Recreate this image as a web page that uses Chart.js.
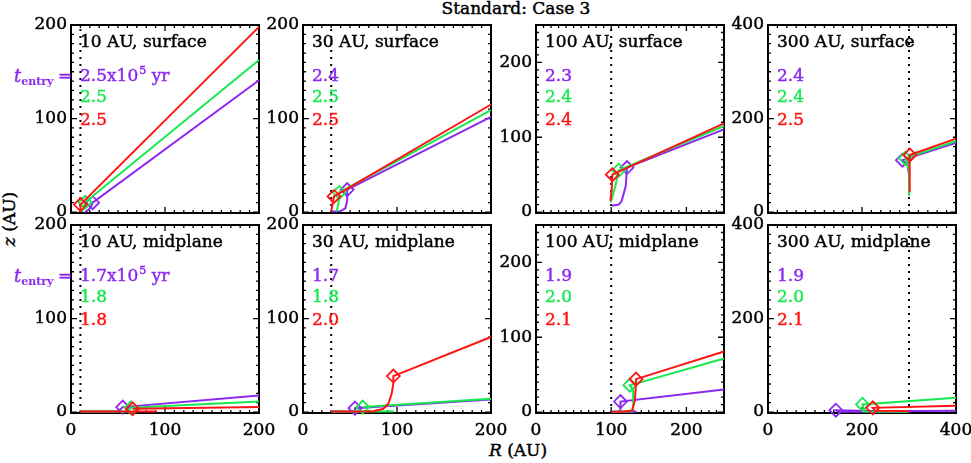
<!DOCTYPE html>
<html>
<head>
<meta charset="utf-8">
<script src="https://cdn.jsdelivr.net/npm/chart.js@4.4.1/dist/chart.umd.min.js"></script>
<style>
  body { margin: 0; background: #fff; width: 971px; height: 463px; position: relative; overflow: hidden; font-family: "DejaVu Serif", serif; }
  canvas { position: absolute; }
  .lab { position: absolute; font-size: 17px; color: #000; white-space: nowrap; transform: translate(-50%, -50%); -webkit-text-stroke: 0.45px #000; }
</style>
</head>
<body>
<div class="lab" style="left:516px;top:8px;">Standard: Case 3</div>
<div class="lab" style="left:9px;top:219px;transform:translate(-50%,-50%) rotate(-90deg);"><i>z</i> (AU)</div>
<div class="lab" style="left:518px;top:450px;"><i>R</i> (AU)</div>
<script>
// datos de los paneles (fila superior: surface, fila inferior: midplane)
const panelNames = ['10 AU, surface', '30 AU, surface', '100 AU, surface', '300 AU, surface',
                    '10 AU, midplane', '30 AU, midplane', '100 AU, midplane', '300 AU, midplane'];
const startR = [10, 30, 100, 300, 10, 30, 100, 300];
const rangeR = [200, 200, 250, 400, 200, 200, 250, 400];
const rangeZ = [200, 200, 250, 400, 200, 200, 250, 400];
const majorStep = [100, 100, 100, 200, 100, 100, 100, 200];

// t_entry (10^5 yr) para cada serie
const tPurple = ['2.5', '2.4', '2.3', '2.4', '1.7', '1.7', '1.9', '1.9'];
const tGreen = ['2.5', '2.5', '2.4', '2.4', '1.8', '1.8', '2.0', '2.0'];
const tRed = ['2.5', '2.5', '2.4', '2.5', '1.8', '2.0', '2.1', '2.1'];

// trayectorias [R, z] en AU, null = corte de linea
const purpleTracks = [
  [[15, 0], [18, 2], [21, 5], [23, 10], [200, 141]],
  [[30.5, 0.5], [40, 1], [45, 4], [47, 12], [47, 24], [200, 101.7]],
  [[101, 8.5], [110, 10], [114, 15], [119.4, 35], [121, 59.5], [250, 110.5]],
  [[300, 36], [300, 80], [297, 100], [286, 111], [400, 148]],
  [[10, 0.5], [50, 0.5], [55, 5.3], [200, 17.8]],
  [[30, 0.5], [55.3, 0.5], [55.3, 4.2], [200, 13.5]],
  [[100, 0.3], [134, 0.3], null, [113, 1], [112.3, 14], [250, 30]],
  [[300, 0.5], [150, 0.5], [144.4, 4], [250, 2], [400, 3]]
];
const greenTracks = [
  [[12, 0], [13, 4], [15, 10.5], [200, 162.5]],
  [[35.8, 0.5], [37, 6], [38.6, 15], [38.6, 21], [200, 109]],
  [[99, 13], [102, 22], [105.6, 35], [110, 56], [250, 115]],
  [[300, 35], [300, 90], [296, 105], [292, 115], [400, 152]],
  [[10, 0.5], [60, 0.5], [63.8, 4.6], [200, 11.4]],
  [[30, 0.5], [97, 0.5], null, [63.5, 5.3], [200, 14.2]],
  [[101, 0.5], [128, 1], [130, 13.8], [129.2, 29], [124.8, 36], [133, 38], [250, 71.5]],
  [[300, 0.5], [205, 1], [201, 16.4], [400, 30.5]]
];
const redTracks = [
  [[10, 0], [10, 4], [10, 8], [200, 198]],
  [[30, 0.5], [31, 6], [33, 16.7], [200, 115]],
  [[99, 15], [101, 35], [101.5, 50], [250, 118.5]],
  [[300, 45], [301, 100], [302, 122], [400, 157]],
  [[10, 0.5], [91, 0.5], null, [65.6, 3.5], [200, 5.3]],
  [[30, 0.5], [60, 0.6], [74.8, 0.8], [85.5, 3.5], [90.8, 8.9], [94.3, 19.6], [96.1, 30.3], [96.1, 38.5], [200, 80.3]],
  [[101, 0.3], [115, 0.5], [128, 2], [131.5, 16], [132.5, 30], [133, 44], [250, 81]],
  [[300, 2.5], [228, 2.8], [223, 9], [400, 13.5]]
];

// rombos (punto de entrada)
const purpleDiamonds = [[23, 10], [47, 24], [121, 59.5], [286, 111], [55, 5.3], [55.3, 4.2], [112.3, 14], [144.4, 4]];
const greenDiamonds = [[15, 10.5], [38.6, 21], [110, 56], [292, 115], [63.8, 4.6], [63.5, 5.3], [124.8, 36], [201, 16.4]];
const redDiamonds = [[10, 8], [33, 16.7], [101.5, 50], [302, 122], [65.6, 3.5], [96.1, 38.5], [133, 44], [223, 9]];

const PURPLE = '#8c28f0';
const GREEN = '#18e850';
const RED = '#ff1414';
const FAMILY = '"DejaVu Serif", serif';
const FONT = '17px ' + FAMILY;
const TEXT_STROKE = 0.45;

// geometria de la rejilla
const colLeft = [71, 303, 536, 768];
const rowTop = [25, 225];
const PW = 188, PH = 188;
const L = 70, R = 24, T = 12, B = 40;

function tickList(max, step) {
  const out = [];
  for (let v = 0; v <= max + 1e-9; v += step) out.push({ value: v });
  return out;
}

// texto algo mas grueso, como la fuente vectorial de IDL
function boldText(ctx, txt, x, y) {
  ctx.fillText(txt, x, y);
  ctx.lineWidth = TEXT_STROKE;
  ctx.strokeStyle = ctx.fillStyle;
  ctx.strokeText(txt, x, y);
}

// caja estilo IDL con marcas hacia dentro y etiquetas de los ejes
const idlFrame = {
  id: 'idlFrame',
  beforeDatasetsDraw(chart) {
    const { ctx, chartArea: a } = chart;
    const xs = chart.scales.x, ys = chart.scales.y;
    const i = chart.options.plugins.panelText.index;
    const step = majorStep[i];
    const xStep = (i % 4 === 3) ? 200 : 100;
    ctx.save();
    ctx.strokeStyle = '#000';
    ctx.lineWidth = 1.3;
    ctx.beginPath();
    for (let k = 0; k * xStep / 10 <= rangeR[i] + 1e-9; k++) {
      const px = xs.getPixelForValue(k * xStep / 10);
      const len = (k % 10 === 0) ? 6 : 3;
      ctx.moveTo(px, a.bottom); ctx.lineTo(px, a.bottom - len);
      ctx.moveTo(px, a.top); ctx.lineTo(px, a.top + len);
    }
    for (let k = 0; k * step / 10 <= rangeZ[i] + 1e-9; k++) {
      const py = ys.getPixelForValue(k * step / 10);
      const len = (k % 10 === 0) ? 6 : 3;
      ctx.moveTo(a.left, py); ctx.lineTo(a.left + len, py);
      ctx.moveTo(a.right, py); ctx.lineTo(a.right - len, py);
    }
    ctx.stroke();
    ctx.lineWidth = 2;
    ctx.strokeRect(a.left, a.top, a.right - a.left, a.bottom - a.top);

    // numeros de los ejes
    ctx.fillStyle = '#000';
    ctx.font = FONT;
    ctx.textBaseline = 'middle';
    ctx.textAlign = 'right';
    ys.ticks.forEach(t => boldText(ctx, String(t.value), a.left - 4, ys.getPixelForValue(t.value)));
    if (i >= 4) {
      ctx.textAlign = 'center';
      xs.ticks.forEach(t => boldText(ctx, String(t.value), xs.getPixelForValue(t.value), a.bottom + 18));
    }
    ctx.restore();
  }
};

// textos de cada panel
const panelText = {
  id: 'panelText',
  afterDatasetsDraw(chart, args, opts) {
    const i = opts.index, a = chart.chartArea, ctx = chart.ctx;
    const x0 = a.left + 9;
    ctx.save();
    ctx.textBaseline = 'middle';
    ctx.textAlign = 'left';
    ctx.font = FONT;
    ctx.fillStyle = '#000';
    boldText(ctx, panelNames[i], x0, a.top + 18);
    const lines = [[tPurple[i], PURPLE, 52], [tGreen[i], GREEN, 73], [tRed[i], RED, 95.5]];
    lines.forEach(([txt, col, dy], k) => {
      const y = a.top + dy;
      ctx.fillStyle = col;
      ctx.font = FONT;
      boldText(ctx, txt, x0, y);
      if (k === 0 && i % 4 === 0) {
        let x = x0 + ctx.measureText(txt).width;
        boldText(ctx, 'x10', x, y);
        x += ctx.measureText('x10').width;
        ctx.font = '11px ' + FAMILY;
        boldText(ctx, '5', x + 1, y - 6);
        x += ctx.measureText('5').width + 1;
        ctx.font = FONT;
        boldText(ctx, ' yr', x, y);
        // prefijo t_entry =
        let px = x0 - 66;
        ctx.font = 'italic 18px ' + FAMILY;
        boldText(ctx, 't', px, y);
        px += ctx.measureText('t').width;
        ctx.font = 'bold 11px ' + FAMILY;
        ctx.fillText('entry', px, y + 5);
        ctx.font = FONT;
        boldText(ctx, '=', x0 - 22, y);
      }
    });
    ctx.restore();
  }
};

function pts(arr) {
  return arr.map(p => p ? { x: p[0], y: p[1] } : { x: null, y: null });
}

function makePanel(i) {
  const col = i % 4, row = Math.floor(i / 4);
  const canvas = document.createElement('canvas');
  canvas.width = L + PW + R;
  canvas.height = T + PH + B;
  canvas.style.left = (colLeft[col] - L) + 'px';
  canvas.style.top = (rowTop[row] - T) + 'px';
  document.body.appendChild(canvas);

  const ymin = -rangeZ[i] * 0.005;
  const series = [
    { track: redTracks[i], dia: redDiamonds[i], color: RED, order: 1 },
    { track: greenTracks[i], dia: greenDiamonds[i], color: GREEN, order: 2 },
    { track: purpleTracks[i], dia: purpleDiamonds[i], color: PURPLE, order: 3 }
  ];
  const datasets = [];
  series.forEach(s => {
    datasets.push({
      data: pts(s.track), showLine: true, borderColor: s.color, borderWidth: 2,
      pointRadius: 0, order: s.order, clip: 4, spanGaps: false
    });
    datasets.push({
      data: pts([s.dia]), showLine: false, pointStyle: 'rectRot', pointRadius: 6.5,
      borderColor: s.color, pointBorderColor: s.color, pointBorderWidth: 1.8,
      pointBackgroundColor: 'rgba(0,0,0,0)', order: s.order, clip: false
    });
  });
  // linea punteada en R inicial
  datasets.push({
    data: [{ x: startR[i], y: ymin }, { x: startR[i], y: rangeZ[i] }], showLine: true,
    borderColor: '#000', borderWidth: 2, borderDash: [2, 5], pointRadius: 0, order: 10
  });

  new Chart(canvas.getContext('2d'), {
    type: 'scatter',
    data: { datasets: datasets },
    options: {
      responsive: false,
      animation: false,
      events: [],
      layout: { padding: { left: 0, right: R, top: T, bottom: 0 } },
      plugins: { legend: { display: false }, tooltip: { enabled: false }, panelText: { index: i } },
      scales: {
        x: {
          type: 'linear', min: 0, max: rangeR[i],
          afterBuildTicks: s => { s.ticks = tickList(rangeR[i], (col === 3) ? 200 : 100); },
          afterFit: s => { s.height = B; s.paddingLeft = 0; s.paddingRight = 0; },
          grid: { display: false, drawTicks: false }, border: { display: false },
          ticks: { display: false }
        },
        y: {
          type: 'linear', min: ymin, max: rangeZ[i],
          afterBuildTicks: s => { s.ticks = tickList(rangeZ[i], majorStep[i]); },
          afterFit: s => { s.width = L; s.paddingTop = 0; s.paddingBottom = 0; },
          grid: { display: false, drawTicks: false }, border: { display: false },
          ticks: { display: false }
        }
      }
    },
    plugins: [idlFrame, panelText]
  });
}

for (let i = 0; i < 8; i++) makePanel(i);
</script>
</body>
</html>
